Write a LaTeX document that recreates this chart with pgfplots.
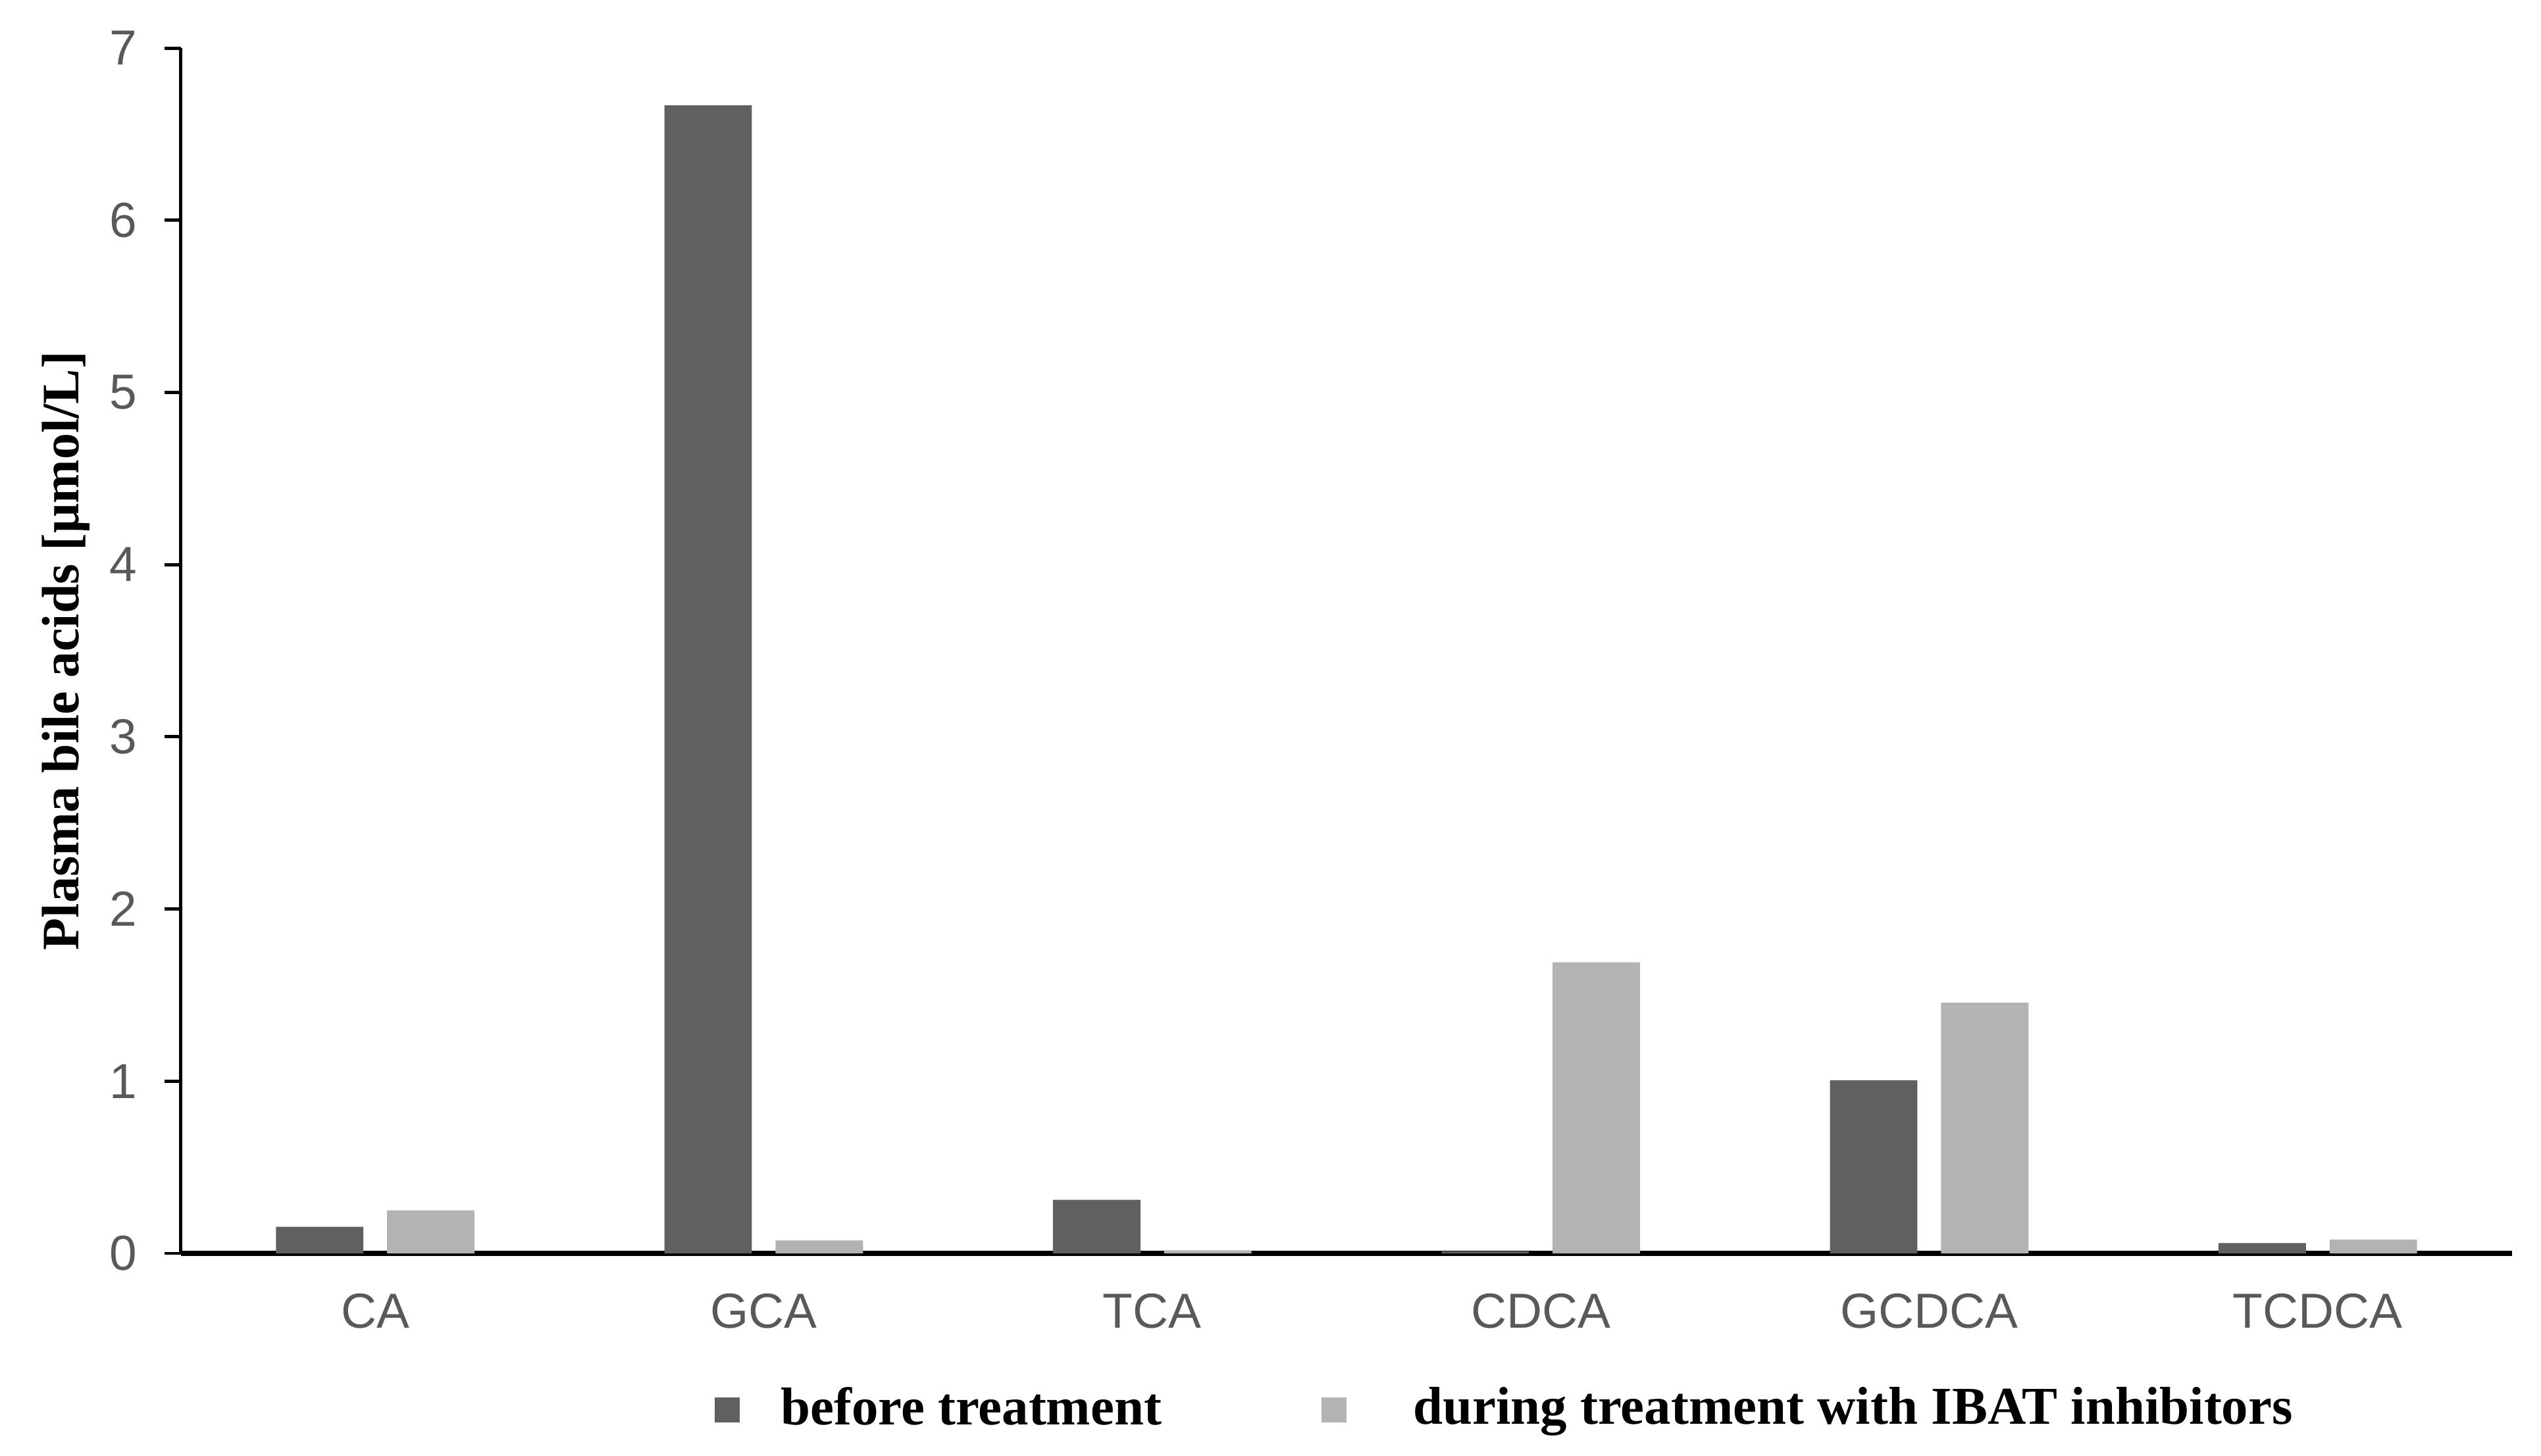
\documentclass[border=0pt]{standalone}
\usepackage{pgfplots}
\pgfplotsset{compat=1.18}
\usepackage{fontspec}
\setmainfont{Liberation Serif}
\newfontfamily\ticksans{Liberation Sans}
\usetikzlibrary{calc}
\definecolor{barbefore}{HTML}{606060}
\definecolor{barduring}{HTML}{B3B3B3}
\definecolor{tickgray}{HTML}{595959}

\begin{document}
\begin{tikzpicture}
\begin{axis}[
    scale only axis,
    width=14.311cm, height=7.402cm,
    ybar,
    bar width=0.225,
    xmin=-0.5, xmax=5.5,
    ymin=0, ymax=7,
    xtick=data,
    xticklabels={CA,GCA,TCA,CDCA,GCDCA,TCDCA},
    ytick={0,1,2,3,4,5,6,7},
    axis lines=left,
    axis line style={-},
    x axis line style={line width=0.88pt},
    y axis line style={line width=0.57pt},
    tick align=outside,
    major tick length=0.1cm,
    ytick style={black, line width=0.57pt},
    xtick style={draw=none},
    /pgf/number format/assume math mode=true,
    tick label style={font=\ticksans\fontsize{8.6}{10}\selectfont, text=tickgray},
    yticklabel style={anchor=east, xshift=-0.045cm},
    xticklabel style={anchor=base, yshift=-0.36cm},
    ylabel={Plasma bile acids [μmol/L]},
    every axis y label/.style={at={(rel axis cs:0,0.5)}, anchor=center, xshift=-0.707cm, rotate=90,
        font=\bfseries\fontsize{9.2}{11}\selectfont},
    legend style={draw=none, fill=none, at={(rel axis cs:0.2212,-0.130)}, anchor=west,
        font=\bfseries\fontsize{9.3}{11}\selectfont,
        /tikz/every odd column/.append style={column sep=0.18cm},
        /tikz/every even column/.append style={column sep=0.91cm}},
    legend columns=2,
    legend cell align=left,
]
\addplot[fill=barbefore, draw=none, bar shift=-0.143,
    legend image code/.code={\fill[barbefore] (0cm,-0.077cm) rectangle (0.154cm,0.077cm);}]
    coordinates {(0,0.154) (1,6.667) (2,0.311) (3,0.012) (4,1.005) (5,0.06)};
\addlegendentry{before treatment}
\addplot[fill=barduring, draw=none, bar shift=0.143,
    legend image code/.code={\fill[barduring] (0cm,-0.077cm) rectangle (0.154cm,0.077cm);}]
    coordinates {(0,0.25) (1,0.075) (2,0.018) (3,1.69) (4,1.456) (5,0.08)};
\addlegendentry{\hspace{0.16cm}during treatment with IBAT inhibitors}
\end{axis}
\path[use as bounding box] ($(current axis.south west)+(-1.111cm,-1.216cm)$) rectangle ($(current axis.north east)+(0.178cm,0.295cm)$);
\end{tikzpicture}
\end{document}
